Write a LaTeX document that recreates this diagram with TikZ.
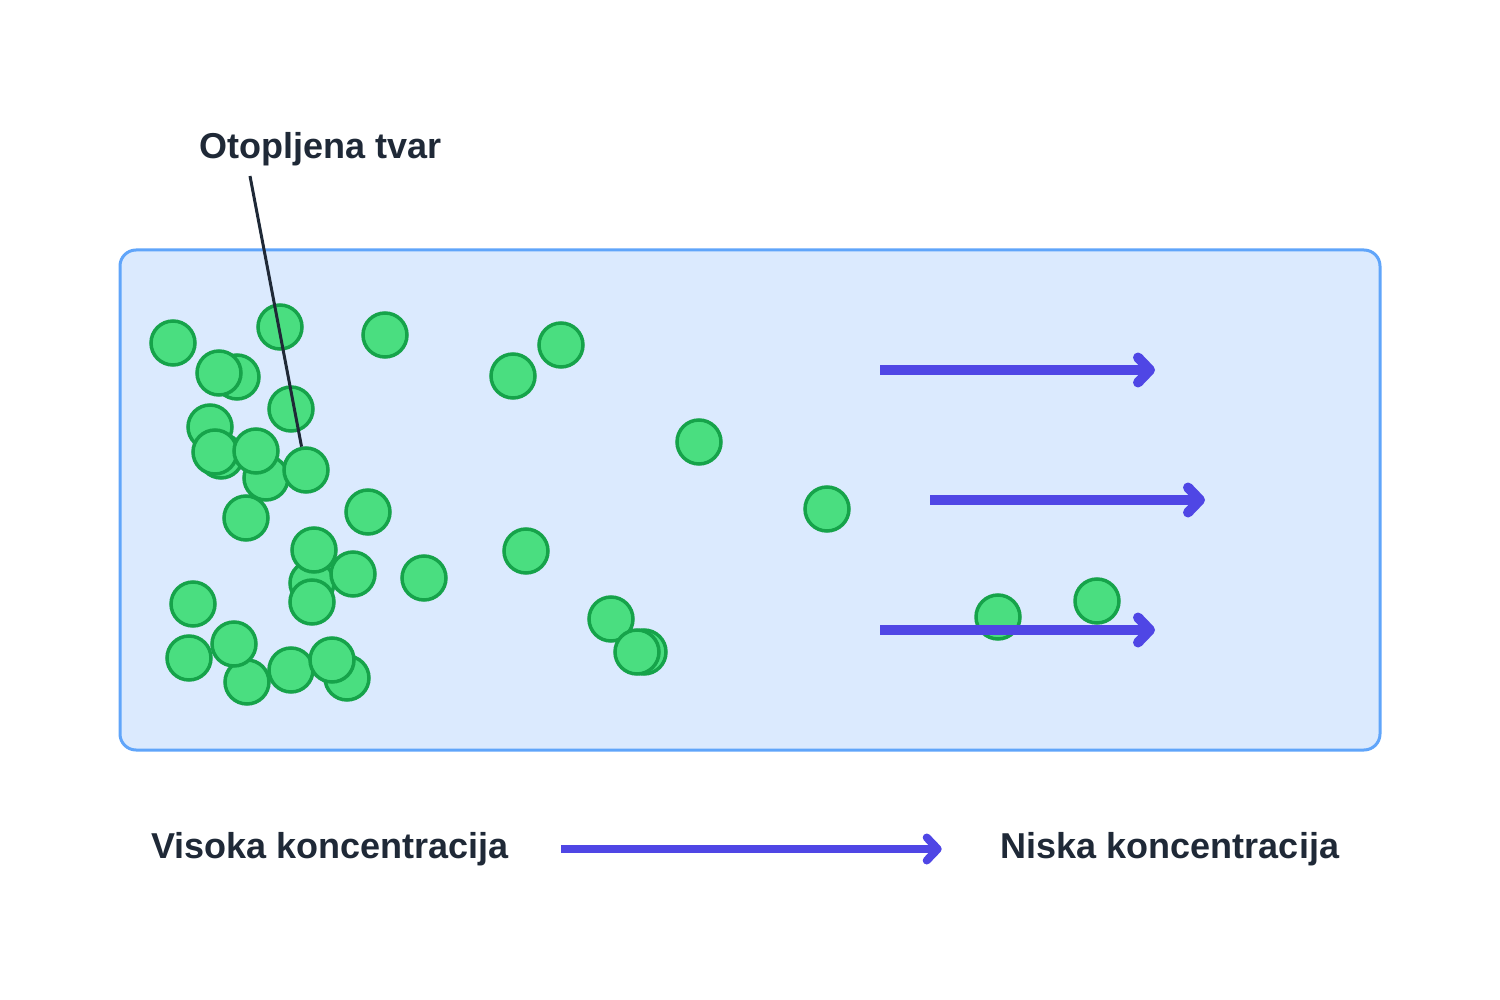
\documentclass[tikz,border=0pt]{standalone}
\usepackage{fontspec}
\setmainfont{Liberation Sans}
\usetikzlibrary{arrows.meta, positioning}

\definecolor{tekst}{HTML}{1F2937}
\definecolor{posudaFill}{HTML}{DBEAFE}
\definecolor{posudaRub}{HTML}{60A5FA}
\definecolor{cesticaFill}{HTML}{4ADE80}
\definecolor{cesticaRub}{HTML}{16A34A}
\definecolor{indigo}{HTML}{4F46E5}

\begin{document}
\begin{tikzpicture}[
		x=1pt, y=-1pt,
		% stilovi za posudu, cestice i strelice
		posuda/.style={rectangle, draw=posudaRub, fill=posudaFill, line width=3pt, rounded corners=16pt, minimum width=1260pt, minimum height=500pt},
		cestica/.style={circle, draw=cesticaRub, fill=cesticaFill, line width=3.5pt, minimum size=44pt, inner sep=0pt},
		oznaka/.style={font=\fontsize{36}{42}\selectfont\bfseries, text=tekst, inner sep=0pt},
		tok/.style={-{Straight Barb[length=12pt, width=25pt, round]}, line width=10pt, indigo},
		smjer/.style={-{Straight Barb[length=11pt, width=23pt, round]}, line width=8pt, indigo},
		vodic/.style={line width=3pt, tekst}
		]
		\useasboundingbox (0,0) rectangle (1500,1000);
		
		\node[posuda] (posuda) at (750,500) {};
		
		% otopljena tvar
		\foreach \x/\y/\n in {173/343/p1, 280/327/p2, 385/335/p3, 237/377/p4, 219/373/p5,
			291/409/p6, 210/427/p7, 221/456/p8, 266/478/p9, 215/452/p10, 256/451/p11,
			306/470/p12, 246/518/p13, 368/512/p14, 312/583/p15, 353/574/p16, 314/550/p17,
			312/602/p18, 424/578/p19, 193/604/p20, 189/658/p21, 247/682/p22, 234/644/p23,
			291/670/p24, 347/678/p25, 332/660/p26, 513/376/p27, 561/345/p28, 699/442/p29,
			827/509/p30, 526/551/p31, 611/619/p32, 644/652/p33, 637/652/p34, 998/617/p35,
			1097/601/p36}
		\node[cestica] (\n) at (\x,\y) {};
		
		\node[oznaka] (tvar) at (321,149) {Otopljena tvar};
		\coordinate (rep) at (250,176);
		\draw[vodic] (rep) -- (p12);
		
		% strelice difuzije
		\coordinate (t1a) at (880,370);  \coordinate (t1b) at (1155,370);
		\coordinate (t2a) at (930,500);  \coordinate (t2b) at (1205,500);
		\coordinate (t3a) at (880,630);  \coordinate (t3b) at (1155,630);
		\draw[tok] (t1a) -- (t1b);
		\draw[tok] (t2a) -- (t2b);
		\draw[tok] (t3a) -- (t3b);
		
		\node[oznaka] (visoka) at (330,849) {Visoka koncentracija};
		\node[oznaka] (niska) at (1170,849) {Niska koncentracija};
		\draw[smjer] ([xshift=52pt]visoka.east) -- ([xshift=-59pt]niska.west);
		
	\end{tikzpicture}
\end{document}
